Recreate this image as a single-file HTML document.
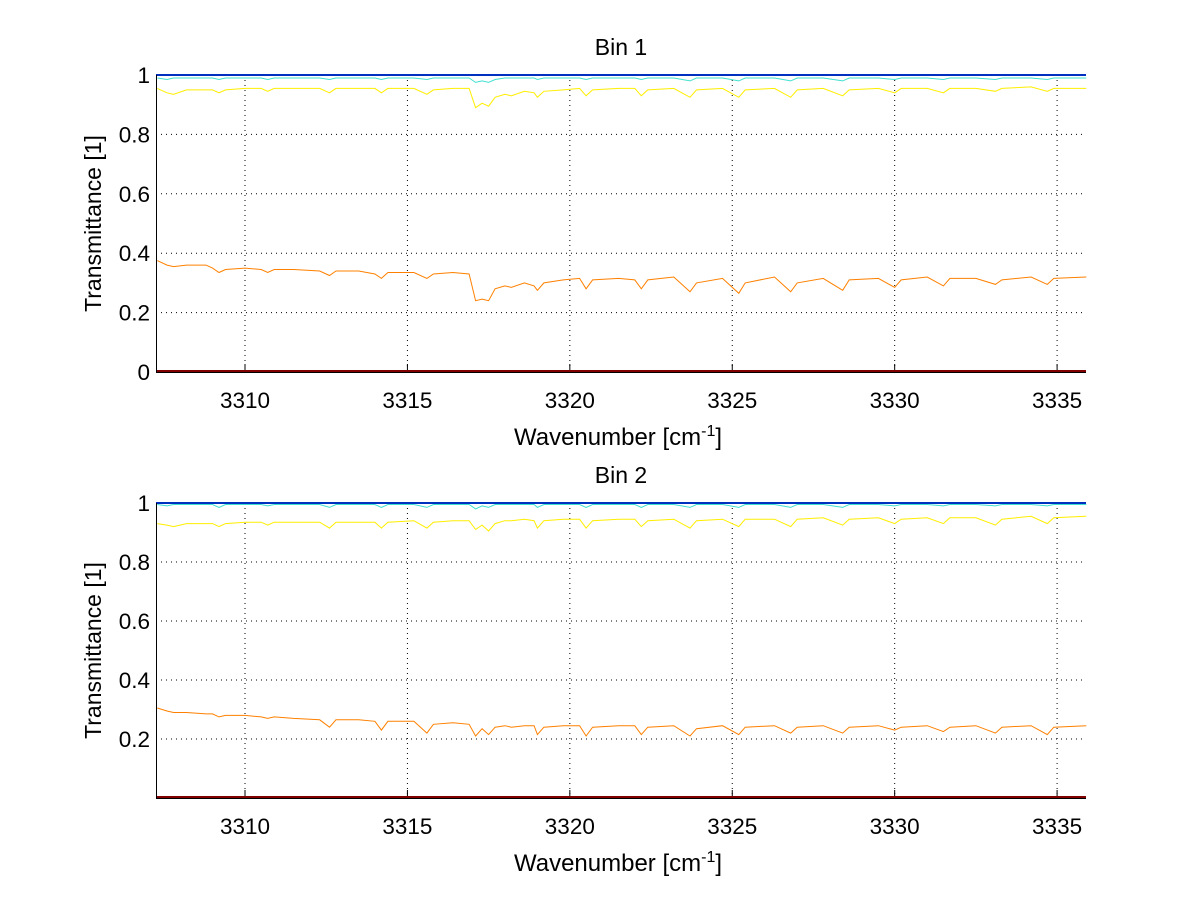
<!DOCTYPE html>
<html><head><meta charset="utf-8"><style>
body{margin:0;background:#fff;}
svg{display:block;font-family:"Liberation Sans",sans-serif;}
</style></head><body>
<svg id="chart" width="1200" height="901" viewBox="0 0 1200 901" xmlns="http://www.w3.org/2000/svg">
<rect width="1200" height="901" fill="#fff"/>
</svg>
<script>
const wavenumbers=[3307.3,3307.6,3307.8,3308.2,3308.8,3309.0,3309.2,3309.4,3310.0,3310.5,
3310.7,3310.9,3311.5,3312.3,3312.6,3312.8,3313.5,3314.0,3314.2,3314.4,
3315.2,3315.6,3315.8,3316.4,3316.9,3317.1,3317.3,3317.5,3317.7,3318.0,
3318.2,3318.6,3318.9,3319.0,3319.2,3319.8,3320.3,3320.5,3320.7,3321.5,
3322.0,3322.2,3322.4,3323.2,3323.7,3323.9,3324.7,3325.2,3325.4,3326.3,
3326.8,3327.0,3327.8,3328.4,3328.6,3329.5,3330.0,3330.2,3331.0,3331.5,
3331.7,3332.5,3333.1,3333.3,3334.2,3334.7,3334.9,3335.9];
const bin1Orange=[.375,.36,.355,.36,.36,.35,.335,.345,.35,.345,
.335,.345,.345,.34,.325,.34,.34,.33,.315,.335,
.335,.315,.33,.335,.33,.24,.245,.24,.28,.29,
.285,.30,.29,.275,.30,.31,.315,.28,.31,.315,
.31,.28,.31,.32,.27,.30,.315,.265,.30,.32,
.27,.30,.315,.275,.31,.315,.285,.31,.32,.29,
.315,.315,.295,.31,.32,.295,.315,.32];
const bin1Yellow=[.955,.94,.935,.95,.95,.95,.94,.95,.955,.955,
.945,.955,.955,.955,.94,.955,.955,.955,.94,.955,
.955,.935,.95,.955,.955,.89,.905,.895,.925,.935,
.93,.945,.94,.925,.945,.95,.955,.93,.95,.955,
.955,.93,.95,.955,.925,.95,.955,.925,.95,.955,
.925,.95,.955,.93,.95,.955,.94,.955,.955,.94,
.955,.955,.945,.955,.96,.945,.955,.955];
const bin1Cyan=[.99,.985,.99,.99,.99,.99,.985,.99,.99,.99,
.985,.99,.99,.99,.985,.99,.99,.99,.985,.99,
.99,.985,.99,.99,.99,.975,.98,.975,.985,.99,
.99,.99,.99,.985,.99,.99,.99,.985,.99,.99,
.99,.985,.99,.99,.98,.99,.99,.98,.99,.99,
.98,.99,.99,.98,.99,.99,.985,.99,.99,.985,
.99,.99,.985,.99,.99,.985,.99,.99];
const bin2Orange=[.305,.295,.29,.29,.285,.285,.275,.28,.28,.275,
.27,.275,.27,.265,.24,.265,.265,.26,.23,.26,
.26,.22,.25,.255,.25,.21,.235,.215,.24,.245,
.24,.245,.245,.215,.24,.245,.245,.21,.24,.245,
.245,.215,.24,.245,.21,.235,.245,.215,.24,.245,
.22,.24,.245,.22,.24,.245,.23,.24,.245,.225,
.24,.245,.22,.24,.245,.215,.24,.245];
const bin2Yellow=[.93,.925,.92,.93,.93,.93,.92,.93,.935,.935,
.925,.935,.935,.935,.915,.935,.935,.935,.915,.935,
.94,.915,.935,.94,.94,.91,.925,.905,.93,.94,
.94,.945,.94,.915,.94,.945,.945,.915,.94,.945,
.945,.92,.94,.945,.915,.94,.945,.92,.945,.945,
.92,.945,.95,.925,.945,.95,.93,.945,.95,.93,
.95,.95,.925,.945,.955,.93,.95,.955];
const bin2Cyan=[.995,.99,.995,.995,.995,.995,.985,.995,.995,.995,
.99,.995,.995,.995,.985,.995,.995,.995,.985,.995,
.995,.985,.995,.995,.995,.98,.99,.985,.995,.995,
.995,.995,.995,.985,.995,.995,.995,.985,.995,.995,
.995,.985,.995,.995,.985,.995,.995,.985,.995,.995,
.985,.995,.995,.985,.995,.995,.99,.995,.995,.99,
.995,.995,.99,.995,.995,.99,.995,.995];
const xTicks=[3310,3315,3320,3325,3330,3335];
const yTicksTop=[0,0.2,0.4,0.6,0.8,1];
const yTicksBottom=[0.2,0.4,0.6,0.8,1];
const titles=["Bin 1","Bin 2"];

const NS="http://www.w3.org/2000/svg";
const svg=document.getElementById('chart');
function mk(tag,attrs,parent){const e=document.createElementNS(NS,tag);for(const k in attrs)e.setAttribute(k,attrs[k]);(parent||svg).appendChild(e);return e;}
const X0=156,X1=1086,XMIN=3307.26,XMAX=3335.89;
const xs=v=>X0+(v-XMIN)/(XMAX-XMIN)*(X1-X0);
const panels=[
 {top:75,bot:372,yt:yTicksTop,series:[[bin1Orange,'#ff8000'],[bin1Yellow,'#ffee00'],[bin1Cyan,'#40e0d0']],title:titles[0]},
 {top:503,bot:798,yt:yTicksBottom,series:[[bin2Orange,'#ff8000'],[bin2Yellow,'#ffee00'],[bin2Cyan,'#40e0d0']],title:titles[1]}
];
panels.forEach((p,pi)=>{
 const ys=v=>p.bot-v*(p.bot-p.top);
 const g=mk('g',{});
 
 
 xTicks.forEach(t=>{
  const l=mk('line',{x1:xs(t),x2:xs(t),y1:p.top,y2:p.bot,stroke:'#000','stroke-width':1,'stroke-dasharray':'1,4'},g);
  
  
  mk('line',{x1:xs(t),x2:xs(t),y1:p.bot,y2:p.bot-8,stroke:'#000','stroke-width':1},g);
  const tx=mk('text',{x:xs(t),y:p.bot+36,'text-anchor':'middle','font-size':22.5},g);
  tx.textContent=t;
  
  
 });
 p.yt.forEach(t=>{
  const l=mk('line',{x1:X0,x2:X1,y1:ys(t),y2:ys(t),stroke:'#000','stroke-width':1,'stroke-dasharray':'1,4'},g);
  
  
  const tx=mk('text',{x:X0-6,y:ys(t)+8,'text-anchor':'end','font-size':22.5},g);
  tx.textContent=(t===1||t===0)?String(t):t.toFixed(1);
  
  
 });
 const ln=mk('line',{x1:X0,x2:X1,y1:ys(1),y2:ys(1),stroke:'#0030c0','stroke-width':2},g);
 
 
 p.series.slice().reverse().forEach(([vals,c])=>{
  const n=Math.min(vals.length,wavenumbers.length);
  let d='';
  for(let i=0;i<n;i++)d+=(i?'L':'M')+xs(wavenumbers[i]).toFixed(1)+','+ys(vals[i]).toFixed(1);
  const pth=mk('path',{d:d,fill:'none',stroke:c,'stroke-width':1},g);
  
  
 });
 const red=mk('line',{x1:X0,x2:X1,y1:ys(0)-1,y2:ys(0)-1,stroke:'#800000','stroke-width':2},g);
 
 
 mk('line',{x1:X0,x2:X1,y1:p.bot+0.5,y2:p.bot+0.5,stroke:'#000','stroke-width':1},g);
 mk('line',{x1:X0+0.5,x2:X0+0.5,y1:p.top,y2:p.bot,stroke:'#000','stroke-width':1},g);
 const tt=mk('text',{x:621,y:p.top-20,'text-anchor':'middle','font-size':23},g);
 tt.textContent=p.title;
 
 
 const xl=mk('text',{x:618,y:p.bot+73,'text-anchor':'middle','font-size':24},g);
 xl.innerHTML='Wavenumber [cm<tspan dy="-9" font-size="16">-1</tspan><tspan dy="9">]</tspan>';
 
 
 const cy=(p.top+p.bot)/2;
 const yl=mk('text',{x:101,y:cy,'text-anchor':'middle','font-size':23,transform:'rotate(-90 101 '+cy+')'},g);
 yl.textContent='Transmittance [1]';
 
 
});
</script>
</body></html>
